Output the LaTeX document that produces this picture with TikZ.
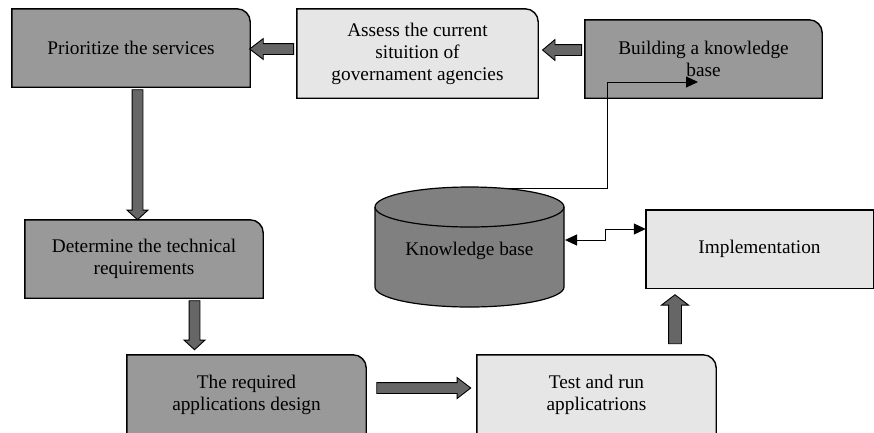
\documentclass[tikz,border=0pt]{standalone}
\usepackage{fontspec}
\setmainfont{Liberation Serif}
\usetikzlibrary{arrows.meta,shapes.arrows,calc}
\pgfdeclarelayer{background}
\pgfsetlayers{background,main}
\definecolor{dkbox}{HTML}{999999}
\definecolor{ltbox}{HTML}{E6E6E6}
\definecolor{cylgray}{HTML}{808080}
\definecolor{arrgray}{HTML}{666666}
\begin{document}
\begin{tikzpicture}[x=1pt,y=1pt,
  box/.style={font=\fontsize{19.3}{22}\selectfont, align=center, inner sep=0pt},
  boxline/.style={draw=black, line width=1.4pt},
  barrow/.style={single arrow, draw=black, line width=0.9pt, fill=arrgray, inner sep=5pt, single arrow head extend=5pt, single arrow tip angle=#1},
  thinline/.style={line width=1pt},
  tri/.tip={Triangle[length=12pt,width=11pt]},
]
\useasboundingbox (0,0) rectangle (874,-432);

% boxes (text nodes)
\node[box, minimum width=238pt, minimum height=78pt] (b1) at (131,-48) {Prioritize the services};
\node[box, minimum width=241pt, minimum height=89pt] (b2) at (417.5,-53.5) {Assess the current\\ situition of\\ governament agencies};
\node[box, minimum width=237pt, minimum height=78pt] (b3) at (703.5,-59) {Building a knowledge\\ base};
\node[box, minimum width=238pt, minimum height=78pt] (b4) at (144,-259) {Determine the technical\\ requirements};
\node[box, minimum width=239pt, minimum height=80pt] (b5) at (246.5,-395) {The required\\ applications design};
\node[box, minimum width=239pt, minimum height=80pt] (b6) at (596.5,-395) {Test and run\\ applicatrions};
\node[box, minimum width=227pt, minimum height=78pt] (impl) at (759.5,-249) {Implementation};
\node[box] (kb) at (469.5,-251) {Knowledge base};

\begin{pgfonlayer}{background}
  \foreach \n/\c in {b1/dkbox, b2/ltbox, b3/dkbox, b4/dkbox, b5/dkbox, b6/ltbox}
    \draw[boxline, fill=\c] (\n.south west) -- (\n.north west) -- ([xshift=-13pt]\n.north east)
      arc[start angle=90, end angle=0, radius=13pt] -- (\n.south east) -- cycle;
  \draw[boxline, fill=ltbox] (impl.south west) rectangle (impl.north east);
  % cylinder
  \draw[line width=1.2pt, fill=cylgray] (375,-207) -- (375,-287)
    arc[start angle=180, end angle=360, x radius=94.5, y radius=20] -- (564,-207)
    arc[start angle=0, end angle=180, x radius=94.5, y radius=20] -- cycle;
  \draw[line width=1.2pt] (375,-207) arc[start angle=180, end angle=360, x radius=94.5, y radius=20];
\end{pgfonlayer}

% block arrows
\node[barrow=75, rotate=180, minimum height=44pt] (a21) at ($(b1.east)+(25,-1)$) {};
\node[barrow=80, rotate=180, minimum height=39pt] (a32) at ($(b3.west)+(-19.5,9)$) {};
\node[barrow=95, rotate=270, minimum height=130pt] (a14) at ($(b1.south)+(6.5,-65)$) {};
\node[barrow=95, rotate=270, minimum height=49pt] (a45) at ($(b4.south)+(50.5,-24.5)$) {};
\node[barrow=75, minimum height=94pt] (a56) at ($(b5.east)+(54,7)$) {};
\node[barrow=105, rotate=90, inner sep=6pt, single arrow head extend=7pt, minimum height=49pt] (a6i) at ($(impl.south)+(-84.5,-33.5)$) {};

% thin connectors
\coordinate (kbT) at (507,-188.6);
\coordinate (turn) at (607,-82);
\coordinate (tip) at (698,-82);
\draw[thinline, -tri] (kbT) -| (turn) -- (tip);

\coordinate (kbR) at (565,-240);
\coordinate (implL) at ($(impl.west)+(0,20)$);
\draw[thinline, tri-tri] (kbR) -- ++(40,0) |- (implL);
\end{tikzpicture}
\end{document}
